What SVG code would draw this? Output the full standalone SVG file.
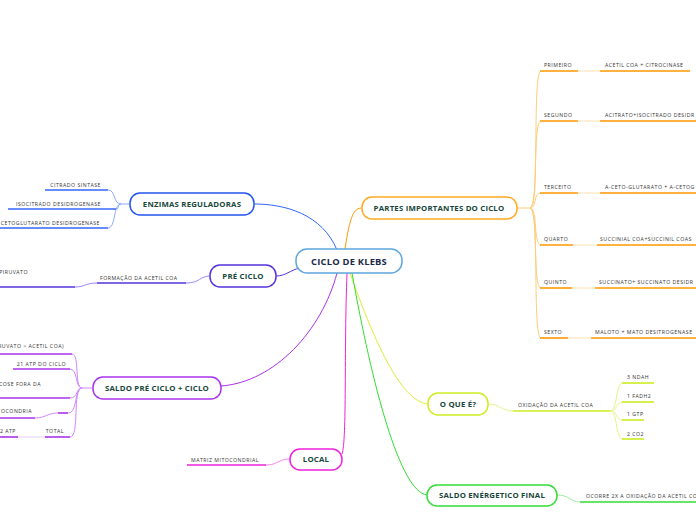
<svg xmlns="http://www.w3.org/2000/svg" width="696" height="520" viewBox="0 0 696 520">
<style>
.n{fill:#fff;stroke-width:1.5}
.nt{font-family:"Open Sans","Noto Sans",sans-serif;font-weight:bold;font-size:7.8px;fill:#16463a;text-anchor:middle;letter-spacing:0.2px}
.t{font-family:"Open Sans","Noto Sans",sans-serif;font-size:5.2px;fill:#333;letter-spacing:0.5px}
.e{text-anchor:end}
.c{fill:none;stroke-width:1}
.u{fill:none;stroke-width:1.6}
</style>
<rect width="696" height="520" fill="#fff"/>
<g id="connectors">
  <path class="c" d="M337,250 C322,214 285,204 254,204" stroke="#3366ff" stroke-width="1.8"/>
  <path class="c" d="M300,268 C290,270 286,276 276,276" stroke="#5533dd" stroke-width="1.8"/>
  <path class="c" d="M337,273 C322,330 275,382 221,386" stroke="#aa33ee" stroke-width="1.8"/>
  <path class="c" d="M347,273 C344,350 347,440 342,454" stroke="#ee22dd" stroke-width="1.8"/>
  <path class="c" d="M345,249 C350,215 354,208 362,208" stroke="#ff9900" stroke-width="1.8"/>
  <path class="c" d="M350,273 C372,335 400,402 428,404" stroke="#ddee33" stroke-width="1.8"/>
  <path class="c" d="M352,273 C372,385 400,492 427,495" stroke="#33dd33" stroke-width="1.8"/>
  <g stroke="#3366ff">
    <path class="c" d="M130,204 L121,204 C113,204 116,190 108,190" stroke="#88aaff"/>
    <path class="c" d="M121,204 C117,204 120,209 116,209" stroke="#88aaff"/>
    <path class="c" d="M121,204 C113,204 116,228 108,228" stroke="#88aaff"/>
    <path class="u" d="M45,190 L108,190"/>
    <path class="u" d="M8,209 L116,209"/>
    <path class="u" d="M0,228 L108,228"/>
  </g>
  <g stroke="#5533dd">
    <path class="c" d="M210,276 C200,276 200,283 186,283" stroke="#9988ff"/>
    <path class="u" d="M97,283 L186,283"/>
    <path class="c" d="M97,283 C85,283 85,287 75,287" stroke="#9988ff"/>
    <path class="u" d="M0,287 L75,287"/>
  </g>
  <g stroke="#aa33ee">
    <path class="c" d="M93,388 L82,388 C74,388 80,354 72,354" stroke="#cc88ff"/>
    <path class="c" d="M82,388 C75,388 78,369 70,369" stroke="#cc88ff"/>
    <path class="c" d="M82,388 C76,388 78,398 70,398" stroke="#cc88ff"/>
    <path class="c" d="M82,388 C74,388 78,413 68,413" stroke="#cc88ff"/>
    <path class="c" d="M82,388 C72,388 80,437 70,437" stroke="#cc88ff"/>
    <path class="u" d="M0,354 L72,354"/>
    <path class="u" d="M13,369 L70,369"/>
    <path class="u" d="M0,398 L70,398"/>
    <path class="u" d="M58,413 L68,413"/>
    <path class="c" d="M58,413 C48,413 45,418 35,418" stroke="#cc88ff"/>
    <path class="u" d="M0,418 L35,418"/>
    <path class="u" d="M45,437 L70,437"/>
    <path class="c" d="M18,437 L45,437" stroke="#e6ccff"/>
    <path class="u" d="M0,437 L18,437"/>
  </g>
  <g stroke="#ee22dd">
    <path class="c" d="M290,459 C278,459 278,465 266,465" stroke="#ff88f0"/>
    <path class="u" d="M187,465 L266,465"/>
  </g>
  <g stroke="#ff9900">
    <path class="c" d="M517,208 L530,208 C540,208 532,71 541,71" stroke="#ffcc77"/>
    <path class="c" d="M530,208 C539,208 532,121 541,121" stroke="#ffcc77"/>
    <path class="c" d="M530,208 C537,208 533,193 541,193" stroke="#ffcc77"/>
    <path class="c" d="M530,208 C538,208 533,245 541,245" stroke="#ffcc77"/>
    <path class="c" d="M530,208 C539,208 532,288 541,288" stroke="#ffcc77"/>
    <path class="c" d="M530,208 C540,208 532,338 541,338" stroke="#ffcc77"/>
    <path class="u" d="M540,71 L578,71"/>
    <path class="u" d="M540,121 L578,121"/>
    <path class="u" d="M540,193 L578,193"/>
    <path class="u" d="M540,245 L573,245"/>
    <path class="u" d="M540,288 L572,288"/>
    <path class="u" d="M540,338 L568,338"/>
    <path class="c" d="M578,71 L600,71" stroke="#ffe0b0"/>
    <path class="c" d="M578,121 L600,121" stroke="#ffe0b0"/>
    <path class="c" d="M578,193 L600,193" stroke="#ffe0b0"/>
    <path class="c" d="M573,245 L597,245" stroke="#ffe0b0"/>
    <path class="c" d="M572,288 L595,288" stroke="#ffe0b0"/>
    <path class="c" d="M568,338 L591,338" stroke="#ffe0b0"/>
    <path class="u" d="M600,71 L690,71"/>
    <path class="u" d="M600,121 L696,121"/>
    <path class="u" d="M600,193 L696,193"/>
    <path class="u" d="M597,245 L696,245"/>
    <path class="u" d="M595,288 L696,288"/>
    <path class="u" d="M591,338 L696,338"/>
  </g>
  <g stroke="#ccee22">
    <path class="c" d="M488,404 C500,404 502,411 513,411" stroke="#e6f588"/>
    <path class="u" d="M513,411 L610,411"/>
    <path class="c" d="M610,411 C618,411 615,383 623,383" stroke="#e6f588"/>
    <path class="c" d="M610,411 C618,411 615,402 623,402" stroke="#e6f588"/>
    <path class="c" d="M610,411 C618,411 615,420 623,420" stroke="#e6f588"/>
    <path class="c" d="M610,411 C618,411 615,439 623,439" stroke="#e6f588"/>
    <path class="u" d="M622,383 L654,383"/>
    <path class="u" d="M622,402 L654,402"/>
    <path class="u" d="M622,420 L644,420"/>
    <path class="u" d="M622,439 L644,439"/>
  </g>
  <g stroke="#33dd33">
    <path class="c" d="M557,495 C570,495 570,502 580,502" stroke="#99ee99"/>
    <path class="u" d="M580,502 L696,502"/>
  </g>
</g>

<g id="center">
  <rect class="n" x="296" y="249" width="106" height="24" rx="11" stroke="#5ea7dd"/>
  <text class="nt" x="349" y="265" style="font-size:9.4px;fill:#1a2a4a">CICLO DE KLEBS</text>
</g>
<g id="enzimas">
  <rect class="n" x="130" y="193" width="124" height="22" rx="10" stroke="#2255ee"/>
  <text class="nt" x="192" y="207">ENZIMAS REGULADORAS</text>
</g>
<g id="enzimas-items">
  <text class="t e" x="101" y="187">CITRADO SINTASE</text>
  <text class="t e" x="101" y="206">ISOCITRADO DESIDROGENASE</text>
  <text class="t e" x="100" y="225">CETOGLUTARATO DESIDROGENASE</text>
</g>
<g id="preciclo">
  <rect class="n" x="210" y="265" width="66" height="22" rx="10" stroke="#5533dd"/>
  <text class="nt" x="243" y="279">PRÉ CICLO</text>
</g>
<g id="preciclo-items">
  <text class="t" x="100" y="280">FORMAÇÃO DA ACETIL COA</text>
  <text class="t e" x="28" y="274">PIRUVATO</text>
</g>
<g id="saldo">
  <rect class="n" x="93" y="377" width="128" height="22" rx="10" stroke="#aa33ee"/>
  <text class="nt" x="157" y="391">SALDO PRÉ CICLO + CICLO</text>
</g>
<g id="saldo-items">
  <text class="t e" x="64" y="348">RUVATO &gt; ACETIL COA)</text>
  <text class="t e" x="66" y="366">21 ATP DO CICLO</text>
  <text class="t e" x="41" y="386">COSE FORA DA</text>
  <text class="t e" x="32" y="413">OCONDRIA</text>
  <text class="t e" x="16" y="433">2 ATP</text>
  <text class="t e" x="64" y="433">TOTAL</text>
</g>
<g id="local">
  <rect class="n" x="290" y="449" width="52" height="21" rx="10" stroke="#ee22dd"/>
  <text class="nt" x="316" y="462">LOCAL</text>
</g>
<g id="local-items">
  <text class="t" x="191" y="462">MATRIZ MITOCONDRIAL</text>
</g>
<g id="partes">
  <rect class="n" x="362" y="197" width="155" height="22" rx="10" stroke="#ffaa22"/>
  <text class="nt" x="439" y="211">PARTES IMPORTANTES DO CICLO</text>
</g>
<g id="partes-items">
  <text class="t" x="544" y="67">PRIMEIRO</text>
  <text class="t" x="605" y="67">ACETIL COA + CITROCINASE</text>
  <text class="t" x="544" y="117">SEGUNDO</text>
  <text class="t" x="605" y="117">ACITRATO+ISOCITRADO DESIDR</text>
  <text class="t" x="544" y="189">TERCEITO</text>
  <text class="t" x="605" y="189">A-CETO-GLUTARATO + A-CETOG</text>
  <text class="t" x="544" y="241">QUARTO</text>
  <text class="t" x="600" y="241">SUCCINIAL COA+SUCCINIL COAS</text>
  <text class="t" x="544" y="284">QUINTO</text>
  <text class="t" x="599" y="284">SUCCINATO+ SUCCINATO DESIDR</text>
  <text class="t" x="544" y="334">SEXTO</text>
  <text class="t" x="595" y="334">MALOTO + MATO DESITROGENASE</text>
</g>
<g id="oque">
  <rect class="n" x="428" y="393" width="60" height="22" rx="10" stroke="#ccee22"/>
  <text class="nt" x="458" y="407">O QUE É?</text>
</g>
<g id="oque-items">
  <text class="t" x="518" y="407">OXIDAÇÃO DA ACETIL COA</text>
  <text class="t" x="627" y="379">3 NDAH</text>
  <text class="t" x="627" y="398">1 FADH2</text>
  <text class="t" x="627" y="416">1 GTP</text>
  <text class="t" x="627" y="436">2 CO2</text>
</g>
<g id="saldofinal">
  <rect class="n" x="427" y="485" width="130" height="21" rx="10" stroke="#33dd33"/>
  <text class="nt" x="492" y="498">SALDO ENÉRGETICO FINAL</text>
</g>
<g id="saldofinal-items">
  <text class="t" x="586" y="498">OCORRE 2X A OXIDAÇÃO DA ACETIL CO</text>
</g>
</svg>
